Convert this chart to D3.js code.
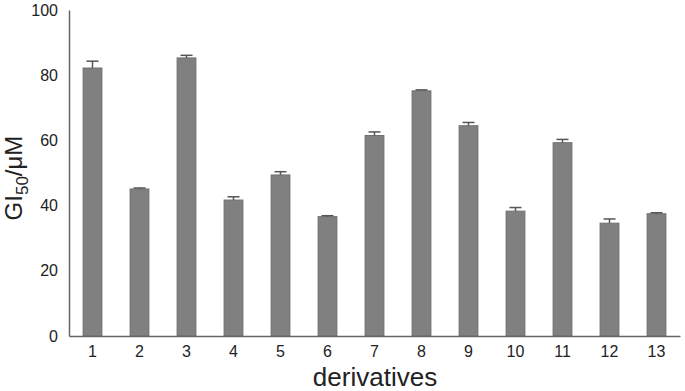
<!DOCTYPE html>
<html>
<head>
<meta charset="utf-8">
<script src="https://cdn.jsdelivr.net/npm/d3@7"></script>
<style>
  body { margin: 0; background: #fff; }
  svg text { font-family: "Liberation Sans", Arial, sans-serif; fill: #222; }
</style>
</head>
<body>
<div class="bar-chart"></div>
<script>
// data
var categories = ["1","2","3","4","5","6","7","8","9","10","11","12","13"];
var values = [82.2, 45.1, 85.3, 41.7, 49.4, 36.6, 61.5, 75.2, 64.5, 38.3, 59.3, 34.6, 37.5];
var errors = [2.1, 0.3, 0.8, 1.0, 1.0, 0.3, 1.1, 0.3, 1.0, 1.1, 1.0, 1.3, 0.3];
var yTicks = [0, 20, 40, 60, 80, 100];

// dimensions and margins
var margin = {top: 10, right: 5, bottom: 55, left: 69},
    width = 685 - margin.left - margin.right,
    height = 391 - margin.top - margin.bottom;

var x = d3.scaleBand().domain(categories).range([0, 611]).paddingInner(0.6).paddingOuter(0.3);
var y = d3.scaleLinear().domain([0, 100]).range([326, 0]);

var svg = d3.select(".bar-chart").append("svg")
    .attr("width", 685)
    .attr("height", 391)
  .append("g")
    .attr("transform", "translate(" + margin.left + "," + margin.top + ")");

var data = categories.map(function(c, i) {
  return {name: c, value: values[i], err: errors[i]};
});

// bars
svg.selectAll(".bar")
    .data(data)
  .enter().append("rect")
    .attr("class", "bar")
    .attr("x", function(d) { return x(d.name); })
    .attr("width", x.bandwidth())
    .attr("y", function(d) { return y(d.value); })
    .attr("height", function(d) { return y(0) - y(d.value); })
    .style("fill", "#808080")
    .style("stroke", "#6f6f6f")
    .style("stroke-width", 1);

// error bars (upper only)
var eb = svg.selectAll(".err").data(data).enter().append("g").attr("class", "err");
eb.append("line")
    .attr("x1", function(d) { return x(d.name) + x.bandwidth() / 2; })
    .attr("x2", function(d) { return x(d.name) + x.bandwidth() / 2; })
    .attr("y1", function(d) { return y(d.value); })
    .attr("y2", function(d) { return y(d.value + d.err); })
    .style("stroke", "#555").style("stroke-width", 1.5);
eb.append("line")
    .attr("x1", function(d) { return x(d.name) + x.bandwidth() / 2 - 6; })
    .attr("x2", function(d) { return x(d.name) + x.bandwidth() / 2 + 6; })
    .attr("y1", function(d) { return y(d.value + d.err); })
    .attr("y2", function(d) { return y(d.value + d.err); })
    .style("stroke", "#555").style("stroke-width", 1.5);

// x axis
var xAxis = svg.append("g")
    .attr("transform", "translate(0," + y(0) + ")")
    .call(d3.axisBottom(x).tickSize(0).tickPadding(10));
xAxis.select(".domain").style("stroke", "#666").style("stroke-width", 1.5);
xAxis.selectAll("text").style("font-size", "16px");

// y axis
var yAxis = svg.append("g")
    .call(d3.axisLeft(y).tickValues(yTicks).tickSize(0).tickPadding(11));
yAxis.select(".domain").style("stroke", "#666").style("stroke-width", 1.5);
yAxis.selectAll("text").style("font-size", "16px");

// axis titles
svg.append("text")
    .attr("x", 306)
    .attr("y", 376)
    .attr("text-anchor", "middle")
    .style("font-size", "26px")
    .text("derivatives");

var yt = svg.append("text")
    .attr("transform", "translate(-47," + 168 + ") rotate(-90)")
    .attr("text-anchor", "middle")
    .style("font-size", "24px");
yt.append("tspan").text("GI");
yt.append("tspan").attr("dy", 6).style("font-size", "17px").text("50");
yt.append("tspan").attr("dy", -6).text("/μM");
</script>
</body>
</html>
